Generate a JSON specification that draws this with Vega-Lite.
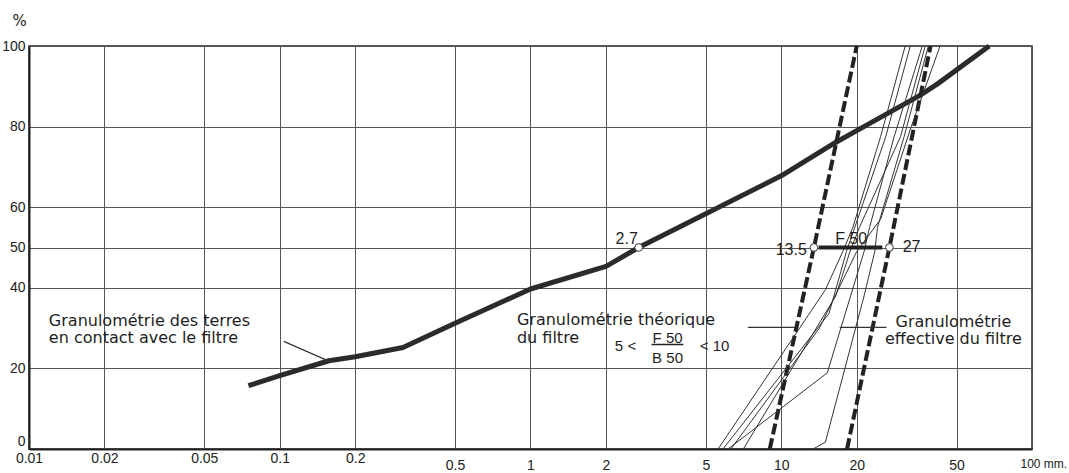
{
  "$schema": "https://vega.github.io/schema/vega-lite/v6.json",
  "width": 1003,
  "height": 403,
  "autosize": "none",
  "padding": {"left": 29, "top": 46, "right": 37, "bottom": 24},
  "background": "white",
  "config": {"view": {"stroke": "#222", "strokeWidth": 1.5}},
  "datasets": {
    "curve": [
      {"x": 0.075, "y": 15.7}, {"x": 0.1, "y": 18.2}, {"x": 0.157, "y": 21.9}, {"x": 0.2, "y": 22.9},
      {"x": 0.31, "y": 25.2}, {"x": 0.5, "y": 31.2}, {"x": 1, "y": 39.7}, {"x": 2, "y": 45.3},
      {"x": 2.7, "y": 50}, {"x": 10, "y": 67.8}, {"x": 16.4, "y": 76}, {"x": 20, "y": 79},
      {"x": 35.6, "y": 87.7}, {"x": 42, "y": 90.6}, {"x": 67.5, "y": 100}
    ],
    "dashed": [
      {"id": "a", "x": 9.0, "y": 0}, {"id": "a", "x": 13.5, "y": 50}, {"id": "a", "x": 20, "y": 100},
      {"id": "b", "x": 18.3, "y": 0}, {"id": "b", "x": 27, "y": 50}, {"id": "b", "x": 39.4, "y": 100}
    ],
    "thin": [
      {"id": 1, "x": 5.6, "y": 0}, {"id": 1, "x": 15.0, "y": 39.5}, {"id": 1, "x": 17.6, "y": 49}, {"id": 1, "x": 19.3, "y": 55}, {"id": 1, "x": 24.9, "y": 77.5}, {"id": 1, "x": 31.2, "y": 100},
      {"id": 2, "x": 5.86, "y": 0}, {"id": 2, "x": 15.5, "y": 33.6}, {"id": 2, "x": 18.2, "y": 49}, {"id": 2, "x": 19.9, "y": 56}, {"id": 2, "x": 26.1, "y": 77.5}, {"id": 2, "x": 32.7, "y": 100},
      {"id": 3, "x": 6.14, "y": 0}, {"id": 3, "x": 15.26, "y": 18.9}, {"id": 3, "x": 21.4, "y": 49}, {"id": 3, "x": 22.5, "y": 55}, {"id": 3, "x": 28.2, "y": 77.5}, {"id": 3, "x": 36.5, "y": 100},
      {"id": 4, "x": 7.06, "y": 0}, {"id": 4, "x": 16.5, "y": 38}, {"id": 4, "x": 18.8, "y": 49}, {"id": 4, "x": 20.5, "y": 55}, {"id": 4, "x": 29.9, "y": 77.5}, {"id": 4, "x": 37.5, "y": 100},
      {"id": 5, "x": 13.4, "y": 0}, {"id": 5, "x": 15.0, "y": 1.7}, {"id": 5, "x": 21.4, "y": 38}, {"id": 5, "x": 23.6, "y": 49}, {"id": 5, "x": 24.2, "y": 55}, {"id": 5, "x": 30.9, "y": 77.5}, {"id": 5, "x": 38.6, "y": 100},
      {"id": 6, "x": 6.3, "y": 0}, {"id": 6, "x": 14.2, "y": 30}, {"id": 6, "x": 20, "y": 49}, {"id": 6, "x": 24.9, "y": 57}, {"id": 6, "x": 33, "y": 80}, {"id": 6, "x": 43, "y": 100}
    ],
    "circles": [{"x": 2.7, "y": 50}, {"x": 13.5, "y": 50}, {"x": 27, "y": 50}],
    "f50bar": [{"x": 14.1, "y": 50, "x2": 25.3}],
    "fracbar": [{"x": 3.04, "y": 25.9, "x2": 4.07}],
    "leaders": [
      {"x": 0.1038, "y": 26.7, "x2": 0.157, "y2": 21.8},
      {"x": 7.36, "y": 30.2, "x2": 11.3, "y2": 30.2},
      {"x": 17.1, "y": 30.2, "x2": 26.3, "y2": 30.2}
    ],
    "tL": [
      {"text": "Granulométrie des terres", "x": 0.012, "y": 30.5},
      {"text": "en contact avec le filtre", "x": 0.012, "y": 26.3},
      {"text": "Granulométrie théorique", "x": 0.883, "y": 30.7},
      {"text": "du filtre", "x": 0.883, "y": 26.4}
    ],
    "tC": [
      {"text": "Granulométrie", "x": 48.6, "y": 30.3},
      {"text": "effective du filtre", "x": 48.6, "y": 26.1}
    ],
    "fL": [
      {"text": "5 <", "x": 2.17, "y": 24.2},
      {"text": "< 10", "x": 4.73, "y": 24.3}
    ],
    "fC": [
      {"text": "F 50", "x": 3.52, "y": 26.3},
      {"text": "B 50", "x": 3.52, "y": 21.3}
    ],
    "nL": [{"text": "27", "x": 30.5, "y": 49.0}],
    "nC": [
      {"text": "2.7", "x": 2.42, "y": 50.9},
      {"text": "F 50", "x": 19.0, "y": 50.8}
    ],
    "nR": [{"text": "13.5", "x": 12.65, "y": 48.1}]
  },
  "encoding": {
    "x": {
      "field": "x", "type": "quantitative",
      "scale": {"type": "log", "domain": [0.01, 100], "nice": false},
      "axis": {
        "values": [0.01, 0.02, 0.05, 0.1, 0.2, 0.5, 1, 2, 5, 10, 20, 50, 100],
        "format": "~g",
        "labelExpr": "datum.value == 100 ? '100 mm.' : datum.label",
        "title": null,
        "grid": true, "gridColor": "#555", "gridWidth": 1,
        "ticks": false,
        "domainColor": "#222", "domainWidth": 2,
        "labelFont": "Liberation Sans Narrow, Liberation Sans, sans-serif",
        "labelFontSize": {"condition": {"test": "datum.value == 100", "value": 12}, "value": 14},
        "labelColor": "#222",
        "labelFlush": false, "labelOverlap": false, "labelBound": false,
        "labelPadding": {"condition": {"test": "datum.value < 0.3", "value": 2}, "value": 9},
        "labelAlign": {"condition": {"test": "datum.value == 100", "value": "left"}, "value": "center"},
        "labelOffset": {"condition": {"test": "datum.value == 100", "value": -12}, "value": 0}
      }
    },
    "y": {
      "field": "y", "type": "quantitative",
      "scale": {"domain": [0, 100], "nice": false},
      "axis": {
        "values": [0, 20, 40, 50, 60, 80, 100],
        "title": "%", "titleAngle": 0, "titleX": -10, "titleY": -26,
        "titleAlign": "center", "titleBaseline": "middle",
        "titleFont": "DejaVu Sans", "titleFontSize": 15, "titleFontWeight": "normal", "titleColor": "#222",
        "grid": true, "gridColor": "#555", "gridWidth": 1,
        "ticks": false,
        "domainColor": "#222", "domainWidth": 2,
        "labelFont": "Liberation Sans Narrow, Liberation Sans, sans-serif",
        "labelFontSize": 14, "labelColor": "#222",
        "labelPadding": 4, "labelFlush": false, "labelOverlap": false,
        "labelBaseline": "middle",
        "labelOffset": {"condition": {"test": "datum.value == 0", "value": -8}, "value": 0}
      }
    }
  },
  "layer": [
    {"data": {"name": "curve"}, "mark": {"type": "line", "color": "#2b2b2b", "strokeWidth": 5, "strokeJoin": "round", "strokeCap": "butt"}, "encoding": {}},
    {"data": {"name": "dashed"}, "mark": {"type": "line", "color": "#222", "strokeWidth": 4, "strokeDash": [11, 4], "strokeCap": "butt"}, "encoding": {"detail": {"field": "id"}, "order": {"field": "y"}}},
    {"data": {"name": "thin"}, "mark": {"type": "line", "color": "#333", "strokeWidth": 1}, "encoding": {"detail": {"field": "id"}, "order": {"field": "y"}}},
    {"data": {"name": "f50bar"}, "mark": {"type": "rule", "color": "#222", "strokeWidth": 4}, "encoding": {"x2": {"field": "x2"}}},
    {"data": {"name": "leaders"}, "mark": {"type": "rule", "color": "#333", "strokeWidth": 1.2}, "encoding": {"x2": {"field": "x2"}, "y2": {"field": "y2"}}},
    {"data": {"name": "fracbar"}, "mark": {"type": "rule", "color": "#222", "strokeWidth": 1.5}, "encoding": {"x2": {"field": "x2"}}},
    {"data": {"name": "tL"}, "mark": {"type": "text", "align": "left", "baseline": "alphabetic", "font": "DejaVu Sans", "fontSize": 16, "color": "#1e1e1e"}, "encoding": {"text": {"field": "text"}}},
    {"data": {"name": "tC"}, "mark": {"type": "text", "align": "center", "baseline": "alphabetic", "font": "DejaVu Sans", "fontSize": 16, "color": "#1e1e1e"}, "encoding": {"text": {"field": "text"}}},
    {"data": {"name": "fL"}, "mark": {"type": "text", "align": "left", "baseline": "alphabetic", "font": "Liberation Sans", "fontSize": 15, "color": "#1e1e1e"}, "encoding": {"text": {"field": "text"}}},
    {"data": {"name": "fC"}, "mark": {"type": "text", "align": "center", "baseline": "alphabetic", "font": "Liberation Sans", "fontSize": 15, "color": "#1e1e1e"}, "encoding": {"text": {"field": "text"}}},
    {"data": {"name": "nL"}, "mark": {"type": "text", "align": "left", "baseline": "alphabetic", "font": "Liberation Sans", "fontSize": 16, "color": "#1e1e1e"}, "encoding": {"text": {"field": "text"}}},
    {"data": {"name": "nC"}, "mark": {"type": "text", "align": "center", "baseline": "alphabetic", "font": "Liberation Sans", "fontSize": 16, "color": "#1e1e1e"}, "encoding": {"text": {"field": "text"}}},
    {"data": {"name": "nR"}, "mark": {"type": "text", "align": "right", "baseline": "alphabetic", "font": "Liberation Sans", "fontSize": 16, "color": "#1e1e1e"}, "encoding": {"text": {"field": "text"}}},
    {"data": {"name": "circles"}, "mark": {"type": "point", "shape": "circle", "size": 60, "filled": true, "fill": "white", "stroke": "#333", "strokeWidth": 1, "opacity": 1}, "encoding": {}}
  ]
}
